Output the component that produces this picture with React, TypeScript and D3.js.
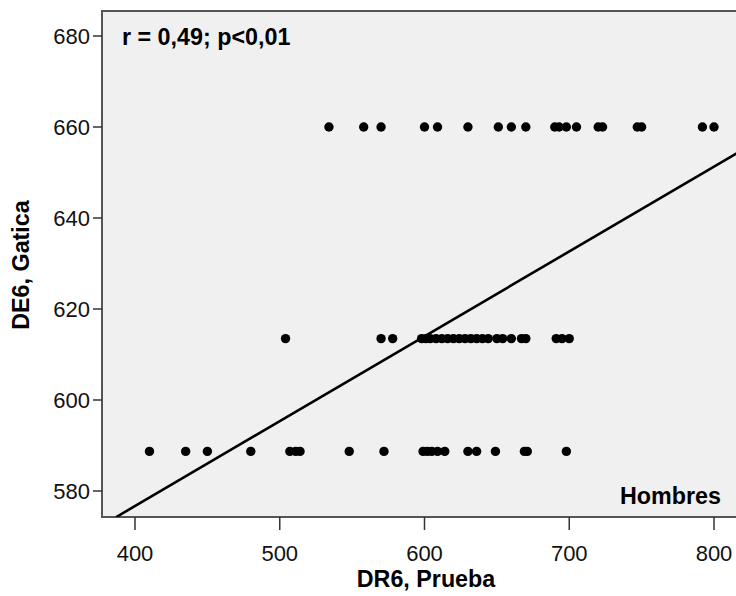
import React from "react";
import * as d3 from "d3";

const row660X = [534, 558, 570, 600, 609, 630, 651, 660, 670, 690, 693, 698, 705, 720, 723, 747, 750, 792, 800];
const row614X = [504, 570, 578, 598, 601, 604, 608, 612, 616, 620, 624, 628, 632, 636, 640, 644, 650, 654, 660, 667, 670, 691, 695, 700];
const row589X = [410, 435, 450, 480, 507, 511, 514, 548, 572, 599, 602, 605, 609, 614, 630, 636, 649, 669, 671, 698];
const rowY = [660, 613.5, 588.7];
const xTicks = [400, 500, 600, 700, 800];
const yTicks = [580, 600, 620, 640, 660, 680];
const fitIntercept = 502.1;
const fitSlope = 0.1865;
const annotation = "r = 0,49; p<0,01";
const groupLabel = "Hombres";
const xTitle = "DR6, Prueba";
const yTitle = "DE6, Gatica";

export default function App() {
  const W = 736, H = 596;
  const left = 102, top = 11, bottom = 517, right = 742;
  const x = d3.scaleLinear().domain([400, 800]).range([135, 714]);
  const y = d3.scaleLinear().domain([580, 680]).range([491, 36]);
  const xMax = x.invert(right);
  const yMin = y.invert(bottom);
  const points: { vx: number; vy: number }[] = [];
  [row660X, row614X, row589X].forEach((row, i) => row.forEach(v => points.push({ vx: v, vy: rowY[i] })));
  const lx0 = (yMin - fitIntercept) / fitSlope;
  const lineData: [number, number][] = [[lx0, yMin], [xMax, fitIntercept + fitSlope * xMax]];
  const line = d3.line<[number, number]>().x(d => x(d[0])).y(d => y(d[1]));
  const font = "Arial, 'Liberation Sans', sans-serif";
  const axisColor = "#555";
  return (
    <svg width={W} height={H} style={{ position: "absolute", left: 0, top: 0, background: "#fff" }} fontFamily={font}>
      <defs>
        <clipPath id="plotclip">
          <rect x={left} y={top} width={right - left} height={bottom - top} />
        </clipPath>
      </defs>
      <rect x={left} y={top} width={right - left} height={bottom - top} fill="#f0f0f0" stroke={axisColor} strokeWidth={2} />
      <g clipPath="url(#plotclip)">
        <path d={line(lineData) || ""} stroke="#000" strokeWidth={2.6} fill="none" />
        {points.map((p, i) => (
          <circle key={i} cx={x(p.vx)} cy={y(p.vy)} r={4.7} fill="#000" />
        ))}
      </g>
      {yTicks.map(t => (
        <g key={"y" + t}>
          <line x1={left - 9} x2={left} y1={y(t)} y2={y(t)} stroke="#333" strokeWidth={1.5} />
          <text x={left - 12} y={y(t)} dy="0.36em" textAnchor="end" fontSize={22} fill="#111">{t}</text>
        </g>
      ))}
      {xTicks.map(t => (
        <g key={"x" + t}>
          <line x1={x(t)} x2={x(t)} y1={bottom} y2={bottom + 13} stroke="#333" strokeWidth={1.5} />
          <text x={x(t)} y={553} dy="0.36em" textAnchor="middle" fontSize={22} fill="#111">{t}</text>
        </g>
      ))}
      <text x={122} y={45} fontSize={23.3} fontWeight="bold" fill="#000">{annotation}</text>
      <text x={721} y={504} textAnchor="end" fontSize={23.3} fontWeight="bold" fill="#000">{groupLabel}</text>
      <text x={426} y={579} dy="0.36em" textAnchor="middle" fontSize={23.3} fontWeight="bold" fill="#000">{xTitle}</text>
      <text transform={`translate(21,265) rotate(-90)`} dy="0.36em" textAnchor="middle" fontSize={23.3} fontWeight="bold" fill="#000">{yTitle}</text>
    </svg>
  );
}
